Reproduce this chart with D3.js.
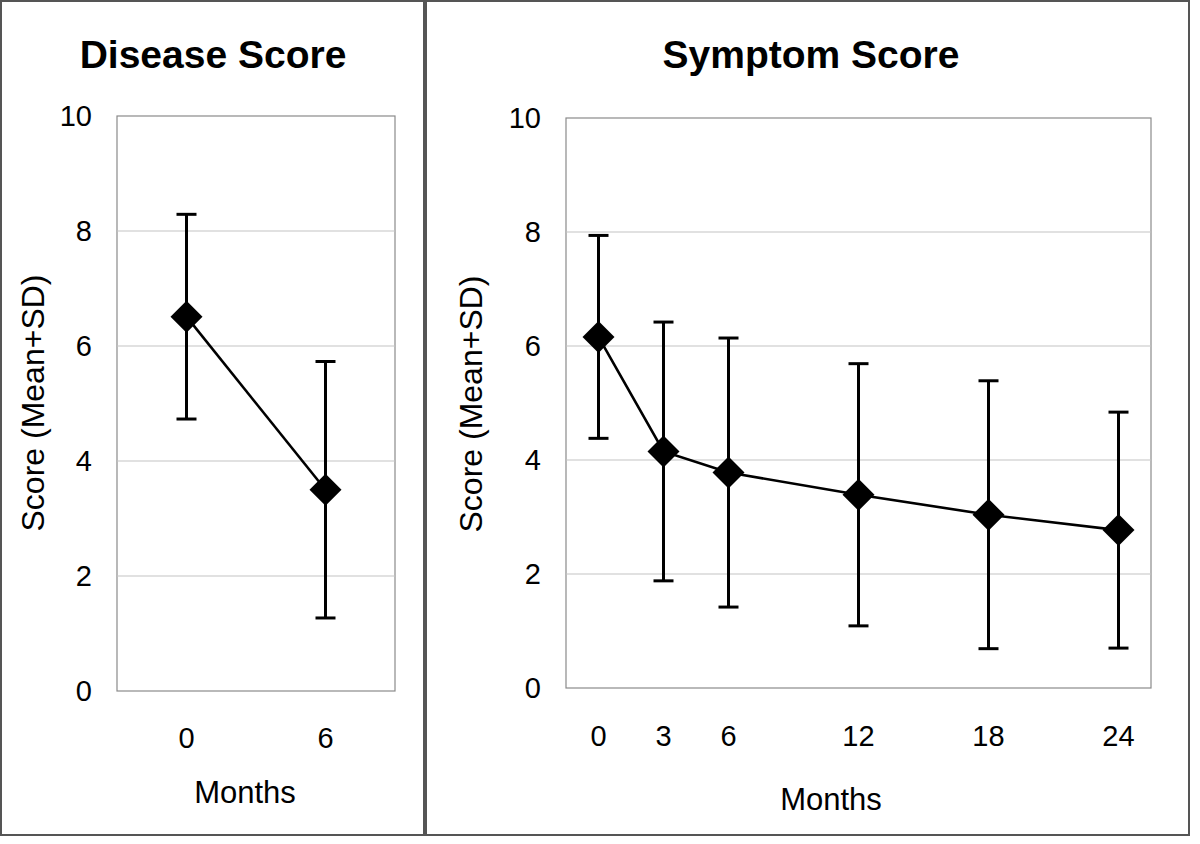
<!DOCTYPE html>
<html>
<head>
<meta charset="utf-8">
<script src="https://cdn.jsdelivr.net/npm/d3@7"></script>
<style>
  html, body { margin: 0; padding: 0; background: #fff; }
  svg { display: block; font-family: "Liberation Sans", Arial, sans-serif; }
</style>
</head>
<body>
<svg id="chart" width="1200" height="844"></svg>
<script>
// ---- Data ----
const diseaseMonths = ["0", "6"];
const diseaseMean = [6.51, 3.50];
const diseaseSD = [1.78, 2.23];

const symptomMonths = [0, 3, 6, 12, 18, 24];
const symptomMean = [6.16, 4.15, 3.78, 3.39, 3.04, 2.77];
const symptomSD = [1.78, 2.27, 2.36, 2.30, 2.35, 2.07];

const yTicks = [0, 2, 4, 6, 8, 10];
const titles = ["Disease Score", "Symptom Score"];
const xTitle = "Months";
const yTitle = "Score (Mean+SD)";

// ---- Drawing ----
const svg = d3.select("#chart");

function diamond(g, x, y, r) {
  g.append("path")
    .attr("d", `M${x},${y - r}L${x + r},${y}L${x},${y + r}L${x - r},${y}Z`)
    .attr("fill", "#000");
}

function panel(cfg) {
  const g = svg.append("g");
  // outer border
  g.append("rect")
    .attr("x", cfg.box[0]).attr("y", cfg.box[1])
    .attr("width", cfg.box[2]).attr("height", cfg.box[3])
    .attr("fill", "none").attr("stroke", "#555").attr("stroke-width", 2);

  const y = d3.scaleLinear().domain([0, 10]).range([cfg.plot.bottom, cfg.plot.top]);

  // plot area
  g.append("rect")
    .attr("x", cfg.plot.left).attr("y", cfg.plot.top)
    .attr("width", cfg.plot.right - cfg.plot.left)
    .attr("height", cfg.plot.bottom - cfg.plot.top)
    .attr("fill", "#fff").attr("stroke", "#8a8a8a").attr("stroke-width", 1.2);

  // gridlines
  g.selectAll(".grid").data(yTicks.filter(t => t > 0 && t < 10)).enter()
    .append("line")
    .attr("x1", cfg.plot.left).attr("x2", cfg.plot.right)
    .attr("y1", d => y(d)).attr("y2", d => y(d))
    .attr("stroke", "#c4c4c4").attr("stroke-width", 1.2);

  // y tick labels
  g.selectAll(".yt").data(yTicks).enter()
    .append("text")
    .attr("x", cfg.plot.left - 25)
    .attr("y", d => y(d))
    .attr("dy", "0.36em")
    .attr("text-anchor", "end")
    .attr("font-size", 29)
    .attr("fill", "#000")
    .text(d => d);

  // x tick labels
  g.selectAll(".xt").data(cfg.cats).enter()
    .append("text")
    .attr("x", d => cfg.x(d))
    .attr("y", cfg.xTickY)
    .attr("text-anchor", "middle")
    .attr("font-size", 29)
    .attr("fill", "#000")
    .text(d => d);

  // title
  g.append("text")
    .attr("x", cfg.titleX).attr("y", 68)
    .attr("text-anchor", "middle")
    .attr("font-size", 39).attr("font-weight", "bold")
    .text(cfg.title);

  // x title
  g.append("text")
    .attr("x", cfg.xTitleX).attr("y", cfg.xTitleY)
    .attr("text-anchor", "middle")
    .attr("font-size", 31)
    .text(xTitle);

  // y title
  g.append("text")
    .attr("transform", `translate(${cfg.yTitleX},${cfg.yTitleY}) rotate(-90)`)
    .attr("text-anchor", "middle")
    .attr("dy", "0.36em")
    .attr("font-size", 32)
    .text(yTitle);

  // connecting line
  const pts = cfg.cats.map((c, i) => [cfg.x(c), y(cfg.mean[i])]);
  g.append("path")
    .attr("d", d3.line()(pts))
    .attr("fill", "none").attr("stroke", "#000").attr("stroke-width", 2.6);

  // error bars
  cfg.cats.forEach((c, i) => {
    const cx = cfg.x(c);
    const hi = y(cfg.mean[i] + cfg.sd[i]);
    const lo = y(cfg.mean[i] - cfg.sd[i]);
    g.append("line").attr("x1", cx).attr("x2", cx).attr("y1", hi).attr("y2", lo)
      .attr("stroke", "#000").attr("stroke-width", 3);
    [hi, lo].forEach(yy => {
      g.append("line").attr("x1", cx - 10).attr("x2", cx + 10).attr("y1", yy).attr("y2", yy)
        .attr("stroke", "#000").attr("stroke-width", 3);
    });
  });

  // markers
  cfg.cats.forEach((c, i) => diamond(g, cfg.x(c), y(cfg.mean[i]), 16));
}

// Left panel: categorical axis
const xLeft = d3.scaleBand().domain(diseaseMonths).range([117, 395]).padding(0);
panel({
  box: [1, 1, 423, 834],
  plot: { left: 117, right: 395, top: 116, bottom: 691 },
  x: d => xLeft(d) + xLeft.bandwidth() / 2,
  cats: diseaseMonths,
  mean: diseaseMean,
  sd: diseaseSD,
  title: titles[0],
  titleX: 213,
  xTickY: 748,
  xTitleX: 245,
  xTitleY: 803,
  yTitleX: 32,
  yTitleY: 403
});

// Right panel: time axis (3-month slots)
const xRight = d3.scaleLinear().domain([-1.5, 25.5]).range([566, 1151]);
panel({
  box: [426, 1, 763, 834],
  plot: { left: 566, right: 1151, top: 118, bottom: 688 },
  x: d => xRight(d),
  cats: symptomMonths,
  mean: symptomMean,
  sd: symptomSD,
  title: titles[1],
  titleX: 811,
  xTickY: 746,
  xTitleX: 831,
  xTitleY: 810,
  yTitleX: 470,
  yTitleY: 404
});
</script>
</body>
</html>
